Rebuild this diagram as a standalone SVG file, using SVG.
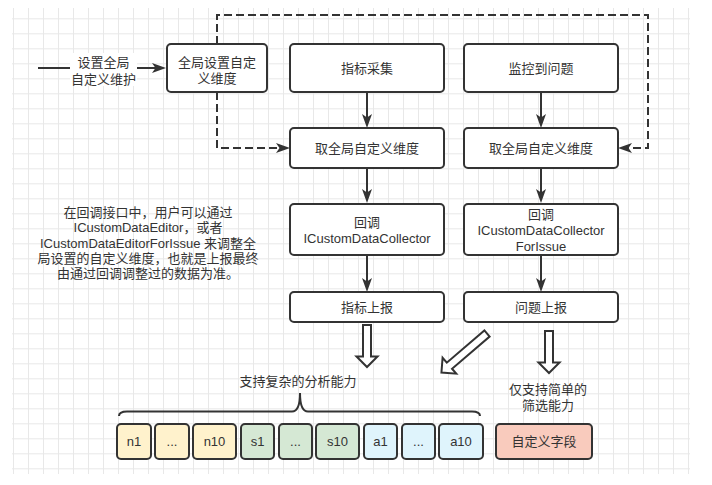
<svg xmlns="http://www.w3.org/2000/svg" width="712" height="485" viewBox="0 0 712 485">
<style>
.box{fill:#fff;stroke:#333;stroke-width:2}
.t{font-family:"Liberation Sans","Noto Sans CJK SC",sans-serif;font-size:13px;fill:#333;text-anchor:middle}
.edge{fill:none;stroke:#333;stroke-width:2}
.dash{stroke-dasharray:8 4}
.blk{fill:#fff;stroke:#333;stroke-width:2;stroke-linejoin:miter}
.y{fill:#fff2cc;stroke:#333;stroke-width:2}
.g{fill:#d5e8d4;stroke:#333;stroke-width:2}
.b{fill:#dff4fc;stroke:#333;stroke-width:2}
.r{fill:#f9cbbd;stroke:#333;stroke-width:2}
</style>
<defs>
<pattern id="grid" patternUnits="userSpaceOnUse" x="13" y="3.3" width="15" height="15">
<path d="M0.5,0 V15 M0,0.5 H15" fill="none" stroke="#e8e8e8" stroke-width="1"/>
</pattern>
<marker id="arr" viewBox="0 0 14 11" refX="10" refY="5.5" markerWidth="14" markerHeight="11" markerUnits="userSpaceOnUse" orient="auto">
<path d="M0,0.5 L14,5.5 L0,10.5 L3.5,5.5 Z" fill="#333"/>
</marker>
</defs>
<rect width="712" height="485" fill="#fff"/>
<rect x="12" y="8" width="678" height="466" fill="url(#grid)"/>

<g id="connectors">
<path class="edge" d="M38,68 H162" marker-end="url(#arr)"/>
<rect x="70" y="53" width="67" height="33" fill="#fff"/>
<text class="t"><tspan x="103.5" y="66.8">设置全局</tspan><tspan x="103.5" y="83.8">自定义维护</tspan></text>
<path class="edge dash" d="M217,44 V15 H648 V148 H622" marker-end="url(#arr)"/>
<path class="edge dash" d="M217,92 V148 H286" marker-end="url(#arr)"/>
<path class="edge" d="M367,92 V124" marker-end="url(#arr)"/>
<path class="edge" d="M367,168 V199" marker-end="url(#arr)"/>
<path class="edge" d="M367,255 V288" marker-end="url(#arr)"/>
<path class="edge" d="M541,92 V124" marker-end="url(#arr)"/>
<path class="edge" d="M541,168 V199" marker-end="url(#arr)"/>
<path class="edge" d="M541,255 V288" marker-end="url(#arr)"/>
<polygon class="blk" points="363,325 371,325 371,356.5 377.5,356.5 367,367 356.5,356.5 363,356.5"/>
<polygon class="blk" points="545,331 553,331 553,362.5 559.5,362.5 549,373 538.5,362.5 545,362.5"/>
<polygon class="blk" transform="translate(487,333.5) rotate(49.4)" points="-4,0 4,0 4,49.5 10.5,49.5 0,60 -10.5,49.5 -4,49.5"/>
<path class="edge" stroke-width="1.5" d="M119,416 Q119,411.5 127,411.5 H292 Q300,411.5 300,393 Q300,411.5 308,411.5 H472 Q480,411.5 480,416"/>
</g>

<g id="global-set">
<rect class="box" x="167" y="44" width="100" height="48" rx="4"/>
<text class="t"><tspan x="217" y="66.8">全局设置自定</tspan><tspan x="217" y="82.8">义维度</tspan></text>
</g>
<g id="metric-collect">
<rect class="box" x="290" y="44" width="154" height="48" rx="4"/>
<text class="t" x="367" y="72.5">指标采集</text>
</g>
<g id="issue-detect">
<rect class="box" x="464" y="44" width="154" height="48" rx="4"/>
<text class="t" x="541" y="72.5">监控到问题</text>
</g>
<g id="get-global-1">
<rect class="box" x="290" y="128" width="154" height="40" rx="4"/>
<text class="t" x="367" y="152.5">取全局自定义维度</text>
</g>
<g id="get-global-2">
<rect class="box" x="464" y="128" width="154" height="40" rx="4"/>
<text class="t" x="541" y="152.5">取全局自定义维度</text>
</g>
<g id="callback-1">
<rect class="box" x="290" y="204" width="154" height="51" rx="4"/>
<text class="t"><tspan x="367" y="226.8">回调</tspan><tspan x="367" y="242.8">ICustomDataCollector</tspan></text>
</g>
<g id="callback-2">
<rect class="box" x="464" y="204" width="154" height="51" rx="4"/>
<text class="t"><tspan x="541" y="218.8">回调</tspan><tspan x="541" y="235">ICustomDataCollector</tspan><tspan x="541" y="251">ForIssue</tspan></text>
</g>
<g id="metric-report">
<rect class="box" x="290" y="292" width="154" height="30" rx="4"/>
<text class="t" x="367" y="311.5">指标上报</text>
</g>
<g id="issue-report">
<rect class="box" x="464" y="292" width="154" height="30" rx="4"/>
<text class="t" x="541" y="311.5">问题上报</text>
</g>

<g id="note">
<text class="t"><tspan x="148" y="216.8">在回调接口中，用户可以通过</tspan><tspan x="148" y="232.2">ICustomDataEditor，或者</tspan><tspan x="148" y="247.5">ICustomDataEditorForIssue 来调整全</tspan><tspan x="148" y="262.8">局设置的自定义维度，也就是上报最终</tspan><tspan x="148" y="278">由通过回调调整过的数据为准。</tspan></text>
</g>
<g id="complex-label">
<text class="t" x="298" y="386.2">支持复杂的分析能力</text>
</g>
<g id="simple-label">
<text class="t"><tspan x="548" y="393.5">仅支持简单的</tspan><tspan x="548" y="409.5">筛选能力</tspan></text>
</g>

<g id="n1"><rect class="y" x="117" y="424" width="34" height="35" rx="4"/><text class="t" x="134" y="446">n1</text></g>
<g id="n-dots"><rect class="y" x="155" y="424" width="34" height="35" rx="4"/><text class="t" x="172" y="446">...</text></g>
<g id="n10"><rect class="y" x="193" y="424" width="43" height="35" rx="4"/><text class="t" x="214.5" y="446">n10</text></g>
<g id="s1"><rect class="g" x="241" y="424" width="33" height="35" rx="4"/><text class="t" x="257.5" y="446">s1</text></g>
<g id="s-dots"><rect class="g" x="279" y="424" width="33" height="35" rx="4"/><text class="t" x="295.5" y="446">...</text></g>
<g id="s10"><rect class="g" x="316" y="424" width="43" height="35" rx="4"/><text class="t" x="337.5" y="446">s10</text></g>
<g id="a1"><rect class="b" x="364" y="424" width="33" height="35" rx="4"/><text class="t" x="380.5" y="446">a1</text></g>
<g id="a-dots"><rect class="b" x="402" y="424" width="33" height="35" rx="4"/><text class="t" x="418.5" y="446">...</text></g>
<g id="a10"><rect class="b" x="439" y="424" width="44" height="35" rx="4"/><text class="t" x="461" y="446">a10</text></g>
<g id="custom-field"><rect class="r" x="496" y="424" width="96" height="35" rx="4"/><text class="t" x="544" y="446">自定义字段</text></g>
</svg>
